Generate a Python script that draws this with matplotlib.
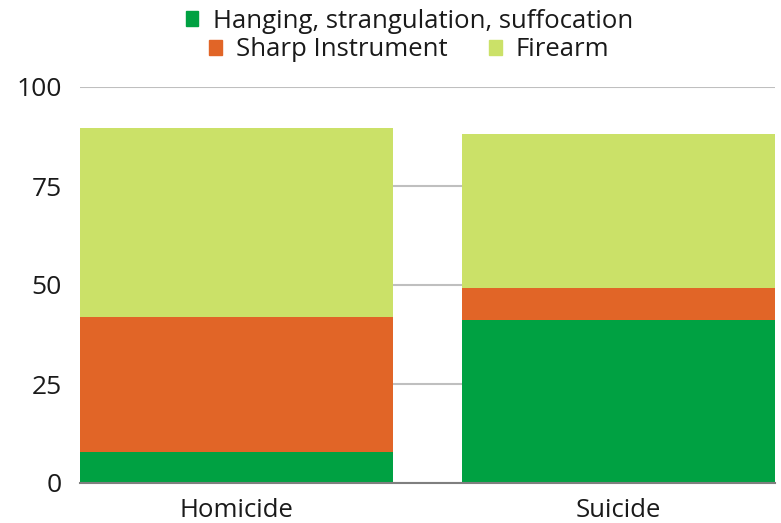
import matplotlib.pyplot as plt
from matplotlib.patches import Patch
import numpy as np

# data (percent of deaths)
categories = ['Homicide', 'Suicide']
hanging = [7.8, 41.2]
sharp = [34.1, 8.0]
firearm = [47.7, 38.9]
yticks = [0, 25, 50, 75, 100]

green = '#00a142'
orange = '#e16527'
lime = '#cbe168'
text_col = '#1a1a1a'

plt.rcParams['font.family'] = 'Open Sans'

fig = plt.figure(figsize=(7.81, 5.23), dpi=100)
ax = fig.add_axes([80 / 781, 40 / 523, 695 / 781, 396 / 523])

x = np.arange(len(categories))
width = 0.82
bottom2 = np.array(hanging) + np.array(sharp)
ax.bar(x, hanging, width, color=green, zorder=2)
ax.bar(x, sharp, width, bottom=hanging, color=orange, zorder=2)
ax.bar(x, firearm, width, bottom=bottom2, color=lime, zorder=2)

ax.set_xlim(-0.41, 1.41)
ax.set_ylim(0, 100)
ax.set_yticks(yticks)
ax.set_xticks(x)
ax.set_xticklabels(categories)
ax.tick_params(axis='both', length=0, labelsize=18.5, colors=text_col)
ax.tick_params(axis='y', pad=13, labelsize=19)
ax.tick_params(axis='x', pad=11)
ax.yaxis.grid(True, color='#bfbfbf', linewidth=1.5, zorder=0)
for s in ['top', 'right', 'left']:
    ax.spines[s].set_visible(False)
ax.spines['bottom'].set_color('#7f7f7f')
ax.spines['bottom'].set_linewidth(1.5)

# legend in two centred rows, like the reference
row1 = [Patch(color=green, label='Hanging, strangulation, suffocation')]
row2 = [Patch(color=orange, label='Sharp Instrument'),
        Patch(color=lime, label='Firearm')]
leg1 = fig.legend(handles=row1, loc='center', bbox_to_anchor=(0.524, 1 - 21 / 523),
                  frameon=False, fontsize=18.5, handlelength=0.5, handleheight=0.5,
                  handletextpad=0.55, labelcolor=text_col)
leg2 = fig.legend(handles=row2, loc='center', bbox_to_anchor=(0.524, 1 - 50 / 523),
                  ncol=2, frameon=False, fontsize=18.5, handlelength=0.5, handleheight=0.5,
                  handletextpad=0.55, columnspacing=1.6, labelcolor=text_col)

plt.savefig('out.png', dpi=100)
